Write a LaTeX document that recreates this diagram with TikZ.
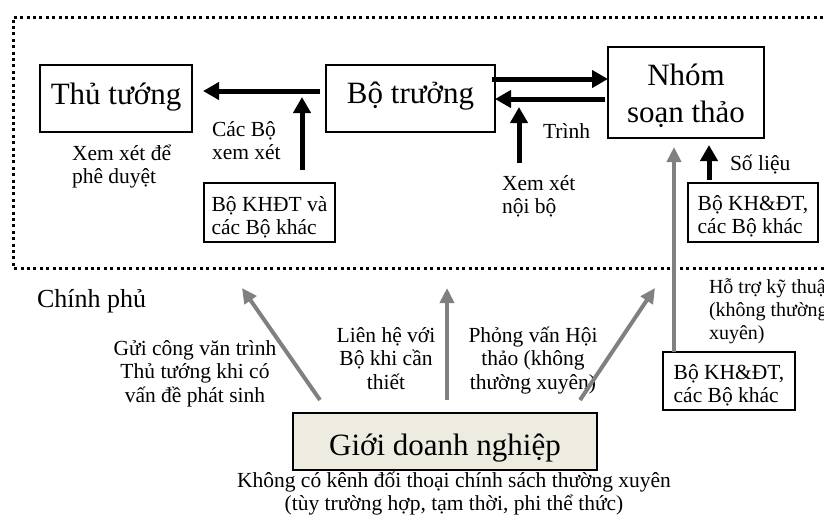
\documentclass[tikz,border=0pt]{standalone}
\usepackage{fontspec}
\setmainfont{Liberation Serif}
\usetikzlibrary{arrows.meta}
\newcommand\bigf{\fontsize{31}{37}\selectfont}
\newcommand\smf{\fontsize{21.5}{23.5}\selectfont}
\newcommand\hof{\fontsize{20}{23}\selectfont}
\newcommand\chf{\fontsize{26}{30}\selectfont}
\newcommand\st[1]{\rule{0pt}{#1}}
\newcommand\sd[1]{\rule[-#1]{0pt}{#1}}
\definecolor{arrgray}{RGB}{128,128,128}
\definecolor{tanfill}{HTML}{EEECE1}
\begin{document}
\begin{tikzpicture}[x=1pt,y=-1pt,
  box/.style={draw, line width=1.6pt, inner sep=0pt, outer sep=0pt},
  blk/.style={line width=5pt, -{Triangle[length=16pt,width=17pt]}},
  gry/.style={draw=arrgray, line width=4pt, -{Triangle[length=15pt,width=14pt]}},
  lbl/.style={inner sep=0pt, outer sep=0pt, font=\smf},
  frame/.style={line width=3pt, dash pattern=on 3pt off 3.4pt}]
\useasboundingbox (0,0) rectangle (824,520);
% government frame
\draw[frame] (830,268) -- (13,268) -- (13,17) -- (830,17);
% boxes
\node[box, minimum width=152pt, minimum height=67pt, text height=19pt, text depth=8pt, font=\bigf] (tt) at (116,98.5) {Thủ tướng};
\node[box, minimum width=169pt, minimum height=67pt, text height=17pt, text depth=8pt, font=\bigf] (bt) at (410.5,98.5) {Bộ trưởng};
\node[box, minimum width=156pt, minimum height=91pt, font=\bigf, align=center] (nh) at (686,92.5) {\st{30pt}Nhóm\\soạn thảo\sd{8pt}};
\node[box, minimum width=131pt, minimum height=59pt, font=\smf, align=left] (kh1) at (269.5,212.5) {\st{25.5pt}Bộ KHĐT và\\các Bộ khác\sd{5pt}};
\node[box, minimum width=130pt, minimum height=59pt, font=\smf, align=left] (kh2) at (753,212.5) {\st{24pt}Bộ KH\&ĐT,\\các Bộ khác\sd{5.5pt}};
\node[box, minimum width=132pt, minimum height=58pt, font=\smf, align=left] (kh3) at (729,381) {\st{25pt}Bộ KH\&ĐT,\\các Bộ khác\sd{5.5pt}};
\node[box, fill=tanfill, minimum width=304pt, minimum height=57pt, text height=35pt, text depth=8pt, font=\bigf] (gd) at (445,441.5) {Giới doanh nghiệp};
% labels
\node[lbl, anchor=north west, align=left] (lbcac) at (212,114) {\st{22pt}Các Bộ\\xem xét};
\node[lbl, anchor=north west, align=left] (lbxem) at (72,138) {\st{22pt}Xem xét để\\phê duyệt};
\node[lbl, anchor=base west] (lbtrinh) at (543,138) {Trình};
\node[lbl, anchor=north west, align=left] (lbnoibo) at (502,168) {\st{22pt}Xem xét\\nội bộ};
\node[lbl, anchor=base west] (lbsolieu) at (730,170) {Số liệu};
\node[lbl, anchor=base west, font=\chf] (lbcp) at (37,307) {Chính phủ};
\node[lbl, anchor=north, align=center] (lbgui) at (195,333) {\st{22pt}Gửi công văn trình\\Thủ tướng khi có\\vấn đề phát sinh};
\node[lbl, anchor=north, align=center] (lblien) at (386,320) {\st{22pt}Liên hệ với\\Bộ khi cần\\thiết};
\node[lbl, anchor=north, align=center] (lbphong) at (533,320) {\st{22pt}Phỏng vấn Hội\\thảo (không\\thường xuyên)};
\node[lbl, anchor=north west, align=left, font=\hof] (lbhotro) at (709,271) {\st{22pt}Hỗ trợ kỹ thuật\\(không thường\\xuyên)};
\node[lbl, anchor=north, align=center] (lbkhong) at (454,469) {\st{18pt}Không có kênh đối thoại chính sách thường xuyên\\(tùy trường hợp, tạm thời, phi thể thức)};
% free ends
\coordinate (j1) at (302,97);
\coordinate (x1) at (519,163);
\coordinate (x2) at (519,107);
\coordinate (t1) at (242,288);
\coordinate (t2) at (447,288);
\coordinate (t3) at (655,288);
% black arrows
\draw[blk] ([xshift=-6pt,yshift=7.5pt]bt.west) -- ([xshift=11pt,yshift=7.5pt]tt.east);
\draw[blk] ([xshift=32.5pt,yshift=13pt]kh1.north) -- (j1);
\draw[blk] ([xshift=-3pt,yshift=19.5pt]bt.east) -- ([yshift=13.5pt]nh.west);
\draw[blk] ([xshift=-3pt,yshift=-6.5pt]nh.west) -- ([yshift=-0.5pt]bt.east);
\draw[blk] (x1) -- (x2);
\draw[blk] ([xshift=-44pt,yshift=3pt]kh2.north) -- ([xshift=23pt,yshift=-7pt]nh.south);
% grey arrows
\draw[gry] ([xshift=-55pt]kh3.north) -- ([xshift=-12pt,yshift=-9pt]nh.south);
\draw[gry] ([xshift=-125pt,yshift=13pt]gd.north) -- (t1);
\draw[gry] ([xshift=2pt,yshift=13pt]gd.north) -- (t2);
\draw[gry] ([xshift=135pt,yshift=13pt]gd.north) -- (t3);
\end{tikzpicture}
\end{document}
